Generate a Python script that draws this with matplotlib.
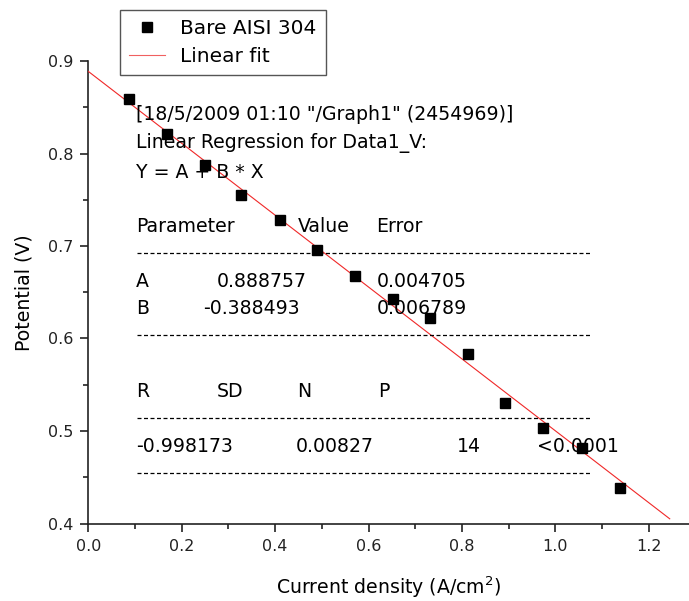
import matplotlib
matplotlib.use('Agg')
import matplotlib.pyplot as plt
from matplotlib.lines import Line2D
from matplotlib.ticker import MultipleLocator


ANCHO_PX = 689
ALTO_PX = 601

# datos
corriente = [0.088, 0.168, 0.250, 0.328, 0.410, 0.490, 0.571, 0.652, 0.732, 0.812, 0.892, 0.974, 1.057, 1.139]
potencial = [0.859, 0.821, 0.788, 0.755, 0.728, 0.696, 0.668, 0.643, 0.622, 0.583, 0.530, 0.503, 0.482, 0.438]

ajuste_a = 0.888757
ajuste_b = -0.388493
ajuste_x = [0.0, 1.245]

titulo_regresion = [
	'[18/5/2009 01:10 "/Graph1" (2454969)]',
	'Linear Regression for Data1_V:',
	'Y = A + B * X',
]
cabecera_parametros = ['Parameter', 'Value', 'Error']
fila_a = ['A', '0.888757', '0.004705']
fila_b = ['B', '-0.388493', '0.006789']
cabecera_estadistica = ['R', 'SD', 'N', 'P']
fila_estadistica = ['-0.998173', '0.00827', '14', '<0.0001']

FUENTE = 'DejaVu Sans'
TAM_TEXTO = 13.6
TAM_LEYENDA = 14.5
TAM_TICKS = 11.5


def px(x: float, y: float) -> tuple[float, float]:
	return x / ANCHO_PX, 1 - y / ALTO_PX


def texto(fig, x, y, cadena, **kw):
	fx, fy = px(x, y)
	fig.text(fx, fy, cadena, fontsize=TAM_TEXTO, family=FUENTE, va='baseline', ha='left', **kw)


def linea_discontinua(fig, y, x0=137, x1=590):
	a = px(x0, y)
	b = px(x1, y)
	fig.add_artist(Line2D([a[0], b[0]], [a[1], b[1]], transform=fig.transFigure,
		color='black', lw=0.9, dashes=(3.2, 2.0)))


def dibujar():
	fig = plt.figure(figsize=(ANCHO_PX / 100, ALTO_PX / 100), dpi=100)

	izq, abajo = px(88.3, 523.5)
	_, arriba = px(0, 61)
	ax = fig.add_axes([izq, abajo, 1 - izq, arriba - abajo])

	ax.plot(corriente, potencial, 's', color='black', ms=7, zorder=4)
	ajuste_y = [ajuste_a + ajuste_b * x for x in ajuste_x]
	ax.plot(ajuste_x, ajuste_y, color='#f02828', lw=0.8, zorder=3)

	ax.set_xlim(0, (ANCHO_PX - 88.3) / 467)
	ax.set_ylim(0.4, 0.9)
	ax.xaxis.set_major_locator(MultipleLocator(0.2))
	ax.xaxis.set_minor_locator(MultipleLocator(0.1))
	ax.yaxis.set_major_locator(MultipleLocator(0.1))
	ax.yaxis.set_minor_locator(MultipleLocator(0.05))
	ax.xaxis.set_major_formatter(plt.FormatStrFormatter('%.1f'))
	ax.yaxis.set_major_formatter(plt.FormatStrFormatter('%.1f'))

	for lado in ('top', 'right'):
		ax.spines[lado].set_visible(False)
	for lado in ('left', 'bottom'):
		ax.spines[lado].set_linewidth(1.2)
		ax.spines[lado].set_color('#222222')

	ax.tick_params(which='major', direction='out', length=6, width=1.2, color='#222222',
		labelsize=TAM_TICKS, pad=5)
	ax.tick_params(which='minor', direction='out', length=3.5, width=1.2, color='#222222')
	for etiqueta in ax.get_xticklabels() + ax.get_yticklabels():
		etiqueta.set_family(FUENTE)
		etiqueta.set_color('#222222')

	ax.set_xlabel('Current density (A/cm$^2$)', fontsize=TAM_TEXTO, family=FUENTE, labelpad=15)
	ax.set_ylabel('Potential (V)', fontsize=TAM_TEXTO, family=FUENTE, labelpad=10)

	manejadores = [
		Line2D([], [], ls='none', marker='s', color='black', ms=7),
		Line2D([], [], color='#f06060', lw=0.8),
	]
	leyenda = fig.legend(manejadores, ['Bare AISI 304', 'Linear fit'], loc='upper left',
		bbox_to_anchor=px(120, 10), borderaxespad=0, fancybox=False, framealpha=1,
		edgecolor='#555555', prop={'family': FUENTE, 'size': TAM_LEYENDA},
		handlelength=1.76, handletextpad=0.76, labelspacing=0.42, borderpad=0.46)
	leyenda.get_frame().set_linewidth(1.0)

	for fila_y, linea in zip([120, 148, 178], titulo_regresion):
		texto(fig, 136, fila_y, linea)

	for x, cad in zip([136, 298, 376], cabecera_parametros):
		texto(fig, x, 231.5, cad)
	linea_discontinua(fig, 253)
	for x, cad in zip([136, 217, 377], fila_a):
		texto(fig, x, 287, cad)
	for x, cad in zip([136, 203, 377], fila_b):
		texto(fig, x, 314, cad)
	linea_discontinua(fig, 335)
	for x, cad in zip([136, 217, 297, 378], cabecera_estadistica):
		texto(fig, x, 397, cad)
	linea_discontinua(fig, 418)
	for x, cad in zip([136, 296, 457, 537], fila_estadistica):
		texto(fig, x, 452, cad)
	linea_discontinua(fig, 473)

	fig.savefig('out.png', dpi=100)


if __name__ == '__main__':
	dibujar()
